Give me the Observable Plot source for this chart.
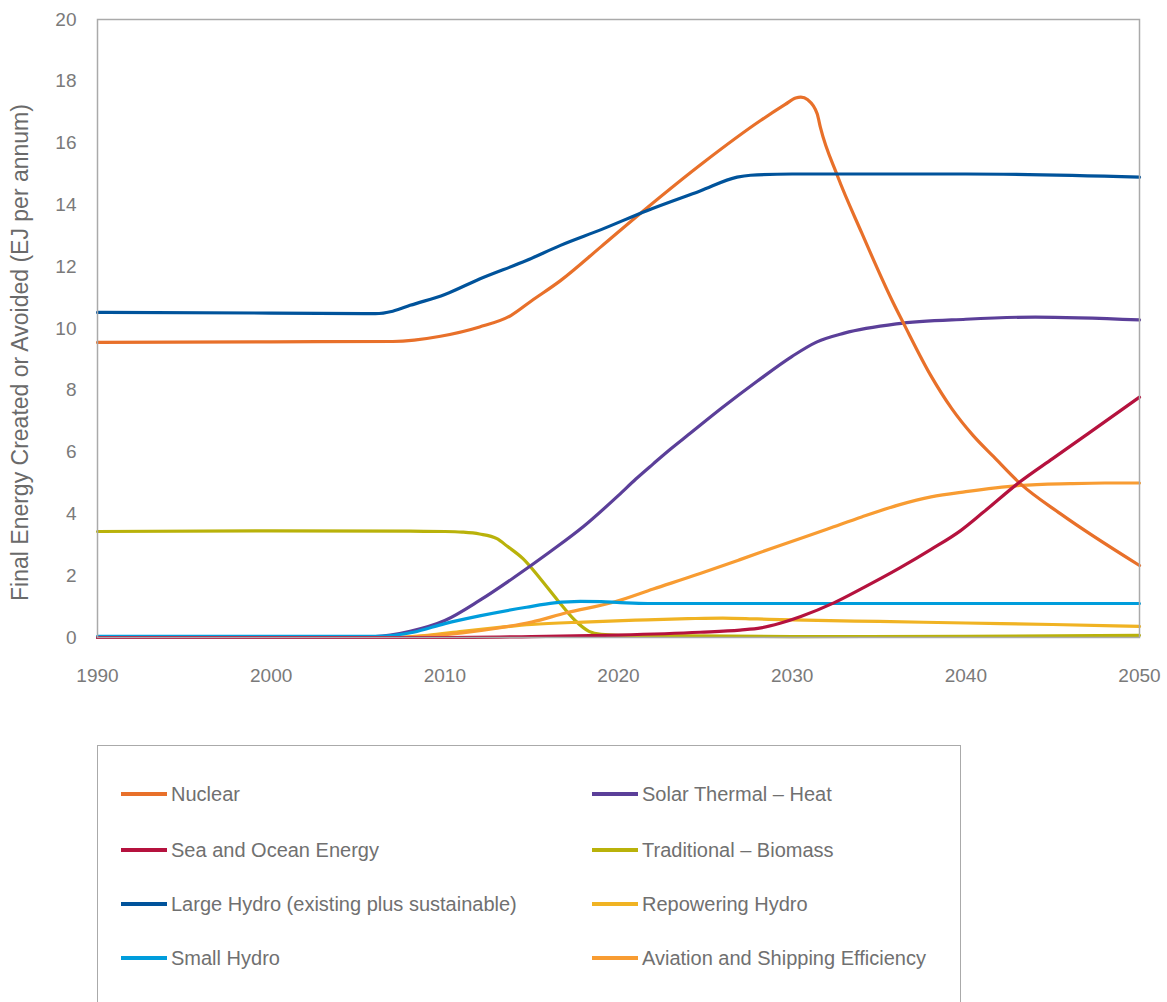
<!DOCTYPE html>
<html>
<head>
<meta charset="utf-8">
<script src="https://cdn.jsdelivr.net/npm/d3@7"></script>
<script src="https://cdn.jsdelivr.net/npm/@observablehq/plot@0.6"></script>
<style>
  html, body { margin: 0; padding: 0; background: #fff; }
  body { width: 1167px; height: 1002px; overflow: hidden; font-family: "Liberation Sans", Arial, sans-serif; }
  #chart svg { display: block; }
  #legend { position: relative; margin-left: 97px; margin-top: 45px; width: 864px; height: 320px; border: 1.5px solid #aaa; box-sizing: border-box; }
  .item { position: absolute; display: flex; align-items: center; font-size: 20px; color: #707070; white-space: nowrap; }
  .sw { width: 46px; height: 4px; margin-right: 4px; }
</style>
</head>
<body>
<div id="chart"></div>
<div id="legend"></div>
<script>
// Series data: [year, EJ per annum]
const nuclear = [[1990,9.55],[2000,9.57],[2007,9.58],[2009.75,9.75],[2012,10.05],[2013.8,10.42],[2015,10.9],[2016.66,11.55],[2019,12.65],[2021.46,13.82],[2024.91,15.38],[2028.18,16.73],[2029.6,17.25],[2030.2,17.46],[2030.5,17.49],[2030.9,17.4],[2031.44,16.95],[2031.63,16.5],[2032.6,14.95],[2034,13.1],[2035.76,10.9],[2036.43,10.15],[2037.96,8.5],[2039.2,7.4],[2040.4,6.55],[2041.6,5.85],[2043.15,4.97],[2045.46,4.0],[2050,2.33]];
const seaOcean = [[1990,0],[2010,0],[2015,0.03],[2020,0.08],[2024.7,0.17],[2027,0.24],[2028.2,0.31],[2029.3,0.46],[2030.5,0.68],[2032.4,1.12],[2034,1.58],[2036.2,2.25],[2038,2.85],[2039.7,3.46],[2041,4.05],[2043.1,5.03],[2045,5.79],[2047,6.58],[2050,7.78]];
const largeHydro = [[1990,10.52],[2000,10.5],[2006,10.48],[2007,10.56],[2008,10.75],[2010,11.1],[2012,11.6],[2014.7,12.2],[2016.66,12.69],[2019,13.2],[2021.67,13.82],[2024.7,14.45],[2026.83,14.9],[2027.6,14.96],[2030,15.0],[2040,15.0],[2050,14.9]];
const smallHydro = [[1990,0.04],[2006,0.04],[2008.2,0.17],[2010,0.45],[2012,0.7],[2014.7,0.98],[2016.3,1.12],[2017.8,1.17],[2019,1.16],[2020.1,1.13],[2021.7,1.1],[2030,1.1],[2050,1.1]];
const solarHeat = [[1990,0],[2006,0.03],[2008,0.2],[2010,0.55],[2012,1.2],[2014,1.95],[2016,2.75],[2018,3.6],[2020,4.6],[2021,5.13],[2022,5.62],[2023,6.1],[2024,6.55],[2026,7.45],[2028,8.3],[2030,9.1],[2031.4,9.56],[2033,9.85],[2036,10.15],[2040,10.3],[2044,10.37],[2050,10.28]];
const tradBiomass = [[1990,3.43],[2000,3.45],[2008,3.44],[2010,3.43],[2011,3.41],[2012,3.35],[2013,3.2],[2013.6,2.95],[2014.5,2.55],[2015.5,1.9],[2016.5,1.2],[2017.5,0.55],[2018.3,0.2],[2019,0.1],[2020,0.07],[2030,0.03],[2040,0.04],[2050,0.07]];
const repoweringHydro = [[1990,0],[2007,0],[2009,0.07],[2011,0.2],[2013,0.32],[2015,0.42],[2018,0.5],[2021,0.56],[2024,0.61],[2026,0.63],[2028,0.6],[2030,0.57],[2035,0.52],[2040,0.47],[2045,0.42],[2050,0.36]];
const aviationShipping = [[1990,0],[2007,0],[2009,0.05],[2011,0.15],[2013,0.3],[2015,0.5],[2017,0.8],[2019.7,1.14],[2022,1.57],[2024.7,2.07],[2027,2.52],[2029.3,2.98],[2032,3.5],[2034,3.9],[2036.2,4.3],[2038,4.55],[2040,4.72],[2043.1,4.92],[2046,4.98],[2048,5.0],[2050,5.0]];

const seriesNames = ["Nuclear","Sea and Ocean Energy","Large Hydro (existing plus sustainable)","Small Hydro","Solar Thermal \u2013 Heat","Traditional \u2013 Biomass","Repowering Hydro","Aviation and Shipping Efficiency"];
const seriesColors = ["#e8702a","#b5123e","#00539b","#009ddc","#5b3f99","#b9b20a","#f0b323","#f89c32"];
const seriesData = [nuclear, seaOcean, largeHydro, smallHydro, solarHeat, tradBiomass, repoweringHydro, aviationShipping];
const drawOrder = [5, 6, 7, 4, 3, 0, 2, 1];
const xTicks = [1990, 2000, 2010, 2020, 2030, 2040, 2050];
const yTicks = [0, 2, 4, 6, 8, 10, 12, 14, 16, 18, 20];
const yLabel = "Final Energy Created or Avoided (EJ per annum)";

const rows = [];
drawOrder.forEach((i, k) => {
  seriesData[i].forEach(([year, value]) => rows.push({series: seriesNames[i], year, value, order: k}));
});

const plot = Plot.plot({
  width: 1167,
  height: 700,
  marginLeft: 97,
  marginRight: 28,
  marginTop: 19,
  marginBottom: 63,
  style: {fontFamily: "'Liberation Sans', Arial, sans-serif", fontSize: "19px", color: "#7a7a7a"},
  x: {domain: [1990, 2050], ticks: xTicks, tickFormat: d => String(d), tickSize: 0, tickPadding: 31, label: null},
  y: {domain: [0, 20], ticks: yTicks, tickSize: 0, tickPadding: 21, label: null},
  color: {domain: seriesNames, range: seriesColors},
  marks: [
    ...drawOrder.map(i => Plot.line(rows.filter(r => r.series === seriesNames[i]), {x: "year", y: "value", stroke: "series", strokeWidth: 3.2, curve: "monotone-x"})),
    Plot.frame({stroke: "#aaa", strokeWidth: 1.5}),
    Plot.text([yLabel], {frameAnchor: "left", dx: -77, dy: 24, rotate: -90, textAnchor: "middle", text: d => d, fontSize: 23, fill: "#6a6a6a"})
  ]
});
document.getElementById("chart").appendChild(plot);

// Legend
const legend = document.getElementById("legend");
const rowsY = [48, 104, 158, 212];
seriesNames.forEach((name, i) => {
  const col = i < 4 ? 0 : 1;
  const row = i % 4;
  const el = document.createElement("div");
  el.className = "item";
  el.style.left = (col === 0 ? 23 : 494) + "px";
  el.style.top = (rowsY[row] - 13) + "px";
  el.style.height = "26px";
  const sw = document.createElement("div");
  sw.className = "sw";
  sw.style.background = seriesColors[i];
  const tx = document.createElement("span");
  tx.textContent = name;
  el.appendChild(sw);
  el.appendChild(tx);
  legend.appendChild(el);
});
</script>
</body>
</html>
